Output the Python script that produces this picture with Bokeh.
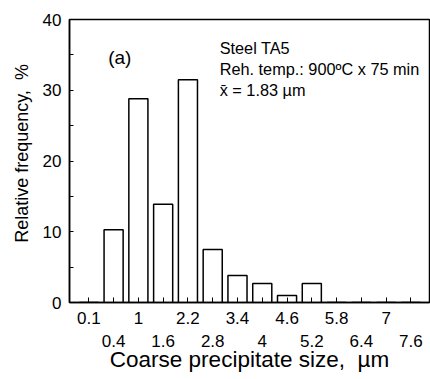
from bokeh.plotting import figure
from bokeh.models import Range1d, FixedTicker, LinearAxis, Label
from bokeh.embed import file_html
from bokeh.resources import INLINE

sizes = ["0.1", "0.4", "1", "1.6", "2.2", "2.8", "3.4", "4", "4.6", "5.2", "5.8", "6.4", "7", "7.6"]
freq = [0, 10.3, 28.8, 13.9, 31.5, 7.5, 3.8, 2.7, 1.0, 2.7, 0, 0, 0, 0]
y_ticks = [0, 10, 20, 30, 40]
y_minor = [5, 15, 25, 35]

FONT = "Liberation Sans"
NB = "\u00a0"
pos = list(range(len(sizes)))

p = figure(width=430, height=379, output_backend="svg", toolbar_location=None,
           x_range=Range1d(-0.78, 13.75), y_range=Range1d(0, 40),
           min_border_left=69, min_border_right=1, min_border_top=19, min_border_bottom=77)
p.xgrid.visible = False
p.ygrid.visible = False
p.outline_line_color = "black"
p.outline_line_width = 1.5
p.background_fill_color = "white"
p.border_fill_color = "white"

p.vbar(x=pos, top=freq, width=0.77, fill_color="white", line_color="black", line_width=1.5)

# y axis
ya = p.yaxis[0]
ya.ticker = FixedTicker(ticks=y_ticks, minor_ticks=y_minor)
ya.major_tick_in = 4
ya.major_tick_out = 0
ya.minor_tick_in = 4
ya.minor_tick_out = 0
ya.major_label_standoff = 8
ya.major_label_text_font = FONT
ya.major_label_text_font_size = "17px"
ya.major_label_text_color = "black"
ya.axis_label = NB * 3 + "Relative frequency," + NB + NB + "%"
ya.axis_label_text_font = FONT
ya.axis_label_text_font_size = "18px"
ya.axis_label_text_font_style = "normal"
ya.axis_label_text_color = "black"
ya.axis_label_standoff = 8
ya.axis_line_width = 1.5
ya.major_tick_line_width = 1
ya.minor_tick_line_width = 1

# x axis row 1 (ticks at all positions, labels at even positions)
xa = p.xaxis[0]
xa.ticker = FixedTicker(ticks=pos, minor_ticks=[])
xa.major_label_overrides = {i: (sizes[i] if i % 2 == 0 else "") for i in pos}
xa.major_tick_in = 5
xa.major_tick_out = 0
xa.minor_tick_line_color = None
xa.major_label_standoff = 9
xa.major_label_text_font = FONT
xa.major_label_text_font_size = "17px"
xa.major_label_text_color = "black"
xa.axis_line_width = 1.5

# x axis row 2 (labels at odd positions)
xb = LinearAxis(ticker=FixedTicker(ticks=[i for i in pos if i % 2 == 1], minor_ticks=[]))
xb.major_label_overrides = {i: sizes[i] for i in pos if i % 2 == 1}
xb.axis_line_color = None
xb.major_tick_line_color = None
xb.minor_tick_line_color = None
xb.major_tick_in = 0
xb.major_tick_out = 0
xb.major_label_standoff = 8
xb.major_label_text_font = FONT
xb.major_label_text_font_size = "17px"
xb.major_label_text_color = "black"
xb.axis_label = "Coarse precipitate size," + NB + NB + "\u00b5m"
xb.axis_label_text_font = FONT
xb.axis_label_text_font_size = "22.5px"
xb.axis_label_text_font_style = "normal"
xb.axis_label_text_color = "black"
xb.axis_label_standoff = -3
p.add_layout(xb, "below")

# annotations
p.add_layout(Label(x=0.78, y=34.6, text="(a)", text_font=FONT, text_font_size="19px",
                   text_baseline="alphabetic", text_color="black"))
for txt, yy in [("Steel TA5", 35.95), ("Reh. temp.: 900\u00baC x 75 min", 33.0), ("x\u0304 = 1.83 \u00b5m", 30.05)]:
    p.add_layout(Label(x=5.28, y=yy, text=txt, text_font=FONT, text_font_size="16.3px",
                       text_baseline="alphabetic", text_color="black"))

open("out.html", "w").write(file_html(p, INLINE))
